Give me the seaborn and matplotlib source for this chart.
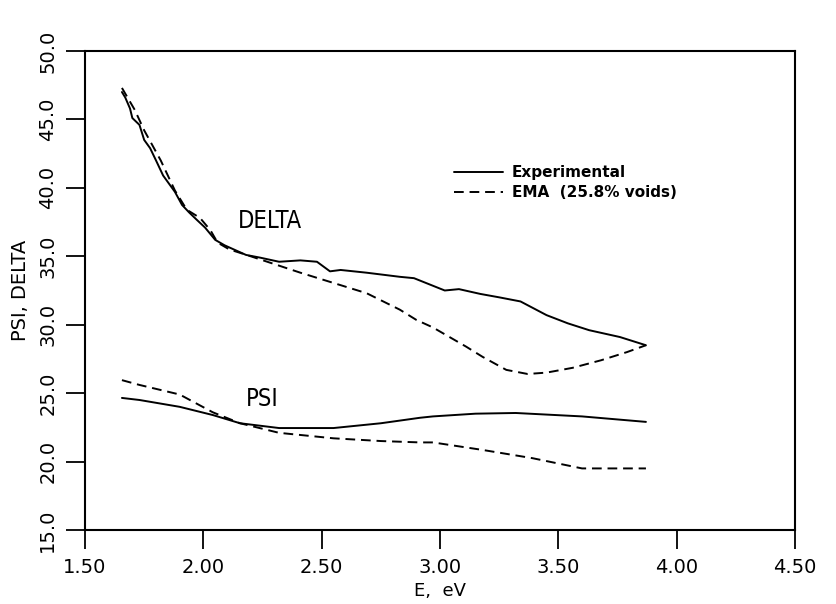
import matplotlib
matplotlib.use('Agg')
import matplotlib.pyplot as plt
import seaborn as sns

sns.set_style('ticks')
plt.rcParams['font.family'] = ['DejaVu Sans']
plt.rcParams['text.color'] = 'black'
plt.rcParams['axes.labelcolor'] = 'black'
plt.rcParams['xtick.color'] = 'black'
plt.rcParams['ytick.color'] = 'black'

# Delta, experimental
delta_exp_e = [1.656, 1.67, 1.69, 1.70, 1.73, 1.75, 1.775, 1.80, 1.83, 1.88, 1.91, 1.94,
               1.97, 2.007, 2.05, 2.09, 2.18, 2.24, 2.32, 2.41, 2.48, 2.535, 2.58, 2.69,
               2.83, 2.89, 3.02, 3.08, 3.17, 3.25, 3.34, 3.45, 3.54, 3.63, 3.76, 3.87]
delta_exp = [47.0, 46.6, 45.8, 45.1, 44.6, 43.5, 42.9, 42.0, 40.9, 39.7, 38.75, 38.2,
             37.7, 37.1, 36.2, 35.8, 35.1, 34.9, 34.6, 34.7, 34.6, 33.9, 34.0, 33.8,
             33.5, 33.4, 32.5, 32.6, 32.25, 32.0, 31.7, 30.7, 30.1, 29.6, 29.1, 28.5]

# Delta, EMA model
delta_ema_e = [1.656, 1.71, 1.75, 1.82, 1.88, 1.93, 1.986, 2.03, 2.06, 2.11, 2.20, 2.34,
               2.41, 2.55, 2.69, 2.76, 2.83, 2.90, 2.97, 3.04, 3.11, 3.18, 3.28, 3.37,
               3.45, 3.56, 3.68, 3.79, 3.87]
delta_ema = [47.3, 45.7, 44.2, 42.0, 39.8, 38.4, 37.8, 36.9, 36.0, 35.5, 35.0, 34.2,
             33.8, 33.05, 32.3, 31.7, 31.1, 30.35, 29.8, 29.1, 28.4, 27.65, 26.7, 26.4,
             26.5, 26.85, 27.4, 28.0, 28.5]

# Psi, experimental
psi_exp_e = [1.656, 1.73, 1.90, 2.04, 2.155, 2.32, 2.55, 2.75, 2.915, 2.97, 3.15, 3.32,
             3.60, 3.87]
psi_exp = [24.65, 24.5, 24.0, 23.4, 22.8, 22.45, 22.45, 22.8, 23.2, 23.3, 23.5, 23.55,
           23.3, 22.9]

# Psi, EMA model
psi_ema_e = [1.656, 1.73, 1.90, 2.04, 2.155, 2.32, 2.55, 2.75, 2.915, 2.97, 3.18, 3.39,
             3.60, 3.87]
psi_ema = [25.95, 25.6, 24.9, 23.6, 22.8, 22.1, 21.7, 21.5, 21.4, 21.4, 20.85, 20.25,
           19.5, 19.5]

x_ticks = [1.5, 2.0, 2.5, 3.0, 3.5, 4.0, 4.5]
y_ticks = [15.0, 20.0, 25.0, 30.0, 35.0, 40.0, 45.0, 50.0]

fig = plt.figure(figsize=(8.36, 6.04), dpi=100)
ax = fig.add_axes([0.1017, 0.1225, 0.8493, 0.7931])

sns.lineplot(x=delta_exp_e, y=delta_exp, ax=ax, color='black', lw=1.4, label='Experimental')
sns.lineplot(x=delta_ema_e, y=delta_ema, ax=ax, color='black', lw=1.4, ls=(0, (5, 3)),
             label='EMA  (25.8% voids)')
sns.lineplot(x=psi_exp_e, y=psi_exp, ax=ax, color='black', lw=1.4)
sns.lineplot(x=psi_ema_e, y=psi_ema, ax=ax, color='black', lw=1.4, ls=(0, (5, 3)))

ax.text(2.28, 37.6, 'DELTA', fontsize=17, ha='center', va='center',
        family='DejaVu Sans', stretch='condensed')
ax.text(2.25, 24.6, 'PSI', fontsize=17, ha='center', va='center',
        family='DejaVu Sans', stretch='condensed')

ax.set_xlim(1.5, 4.5)
ax.set_ylim(15, 50)
ax.set_xticks(x_ticks)
ax.set_xticklabels(['%.2f' % t for t in x_ticks], fontsize=14)
ax.set_yticks(y_ticks)
ax.set_yticklabels(['%.1f' % t for t in y_ticks], fontsize=14, rotation=90, va='center')
ax.tick_params(direction='out', length=14, width=1.3, color='black', pad=6)
for s in ax.spines.values():
    s.set_linewidth(1.5)
    s.set_color('black')

ax.set_xlabel('E,  eV', fontsize=13, labelpad=4)
ax.set_ylabel('PSI, DELTA', fontsize=14, labelpad=6)

leg = ax.legend(loc='upper left', bbox_to_anchor=(0.5, 0.79), frameon=False,
                handlelength=3.2, fontsize=11, labelspacing=0.3, handletextpad=0.6)
for t in leg.get_texts():
    t.set_fontweight('bold')
    t.set_color('black')

fig.savefig('out.png', dpi=100)
